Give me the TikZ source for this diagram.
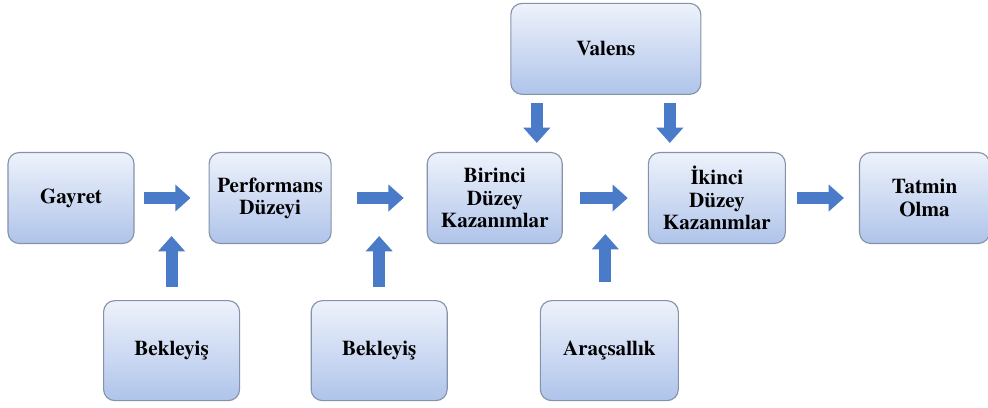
\documentclass[tikz,border=0pt]{standalone}
\usepackage{fontspec}
\setmainfont{texgyretermes}[Extension=.otf, UprightFont=*-regular, BoldFont=*-bold, ItalicFont=*-italic, BoldItalicFont=*-bolditalic]
\usepackage{xcolor}
\usepackage{tikz}
\usetikzlibrary{arrows.meta, positioning, calc}
\definecolor{boxtop}{HTML}{EEF2FB}
\definecolor{boxbot}{HTML}{AFC4EA}
\definecolor{boxline}{HTML}{8593AA}
\definecolor{arrowblue}{HTML}{4A7BC8}
\tikzset{
    box/.style={rectangle, rounded corners=8pt, draw=boxline, line width=0.8pt,
                top color=boxtop, bottom color=boxbot,
                minimum height=2.275cm, align=center, inner sep=2pt,
                font=\rmfamily\bfseries\fontsize{15}{15.8}\selectfont},
    sidebox/.style={box, minimum width=3.4cm, minimum height=2.5cm},
    blockarr/.style={-{Triangle[width=0.65cm, length=0.38cm]}, line width=0.3cm, draw=arrowblue},
}

\begin{document}
\begin{tikzpicture}

  \useasboundingbox (0,0) rectangle (24.7,-10.175);

  % main row
  \node[box, minimum width=3.15cm] (gayret) at (1.775,-4.95) {Gayret};
  \node[box, minimum width=3.05cm, right=1.85cm of gayret] (performans) {Performans\\Düzeyi};
  \node[box, minimum width=3.375cm, right=2.375cm of performans] (birinci) {Birinci\\Düzey\\Kazanımlar};
  \node[box, minimum width=3.425cm, right=2.125cm of birinci] (ikinci) {İkinci\\Düzey\\Kazanımlar};
  \node[box, minimum width=3.25cm, right=1.825cm of ikinci] (tatmin) {Tatmin\\Olma};

  % top
  \coordinate (mid) at ($(birinci.north)!0.5!(ikinci.north)$);
  \node[box, minimum width=4.75cm, above=1.425cm of mid] (valens) {Valens};

  % bottom row
  \coordinate (gap1) at ($(gayret.south east)!0.5!(performans.south west)$);
  \coordinate (gap2) at ($(performans.south east)!0.5!(birinci.south west)$);
  \coordinate (gap3) at ($(birinci.south east)!0.5!(ikinci.south west)$);
  \node[sidebox, below=1.4cm of gap1] (bekleyis1) {Bekleyiş};
  \node[sidebox, below=1.4cm of gap2] (bekleyis2) {Bekleyiş};
  \node[sidebox, minimum width=3.45cm, below=1.4cm of gap3, xshift=0.1cm] (aracsallik) {Araçsallık};

  \draw[blockarr] ([xshift=0.225cm]gayret.east) -- ([xshift=-0.45cm]performans.west);
  \draw[blockarr] ([xshift=0.625cm]performans.east) -- ([xshift=-0.575cm]birinci.west);
  \draw[blockarr] ([xshift=0.425cm]birinci.east) -- ([xshift=-0.5cm]ikinci.west);
  \draw[blockarr] ([xshift=0.275cm]ikinci.east) -- ([xshift=-0.375cm]tatmin.west);

  \draw[blockarr] ([yshift=0.325cm]bekleyis1.north) -- ([yshift=1.6cm]bekleyis1.north);
  \draw[blockarr] ([yshift=0.325cm]bekleyis2.north) -- ([yshift=1.6cm]bekleyis2.north);
  \draw[blockarr] ([xshift=-0.1cm, yshift=0.45cm]aracsallik.north) -- ([xshift=-0.1cm, yshift=1.65cm]aracsallik.north);

  \draw[blockarr] ([xshift=-1.725cm, yshift=-0.2cm]valens.south) -- ([xshift=-1.725cm, yshift=-1.2cm]valens.south);
  \draw[blockarr] ([xshift=1.6cm, yshift=-0.2cm]valens.south) -- ([xshift=1.6cm, yshift=-1.2cm]valens.south);

\end{tikzpicture}
\end{document}
